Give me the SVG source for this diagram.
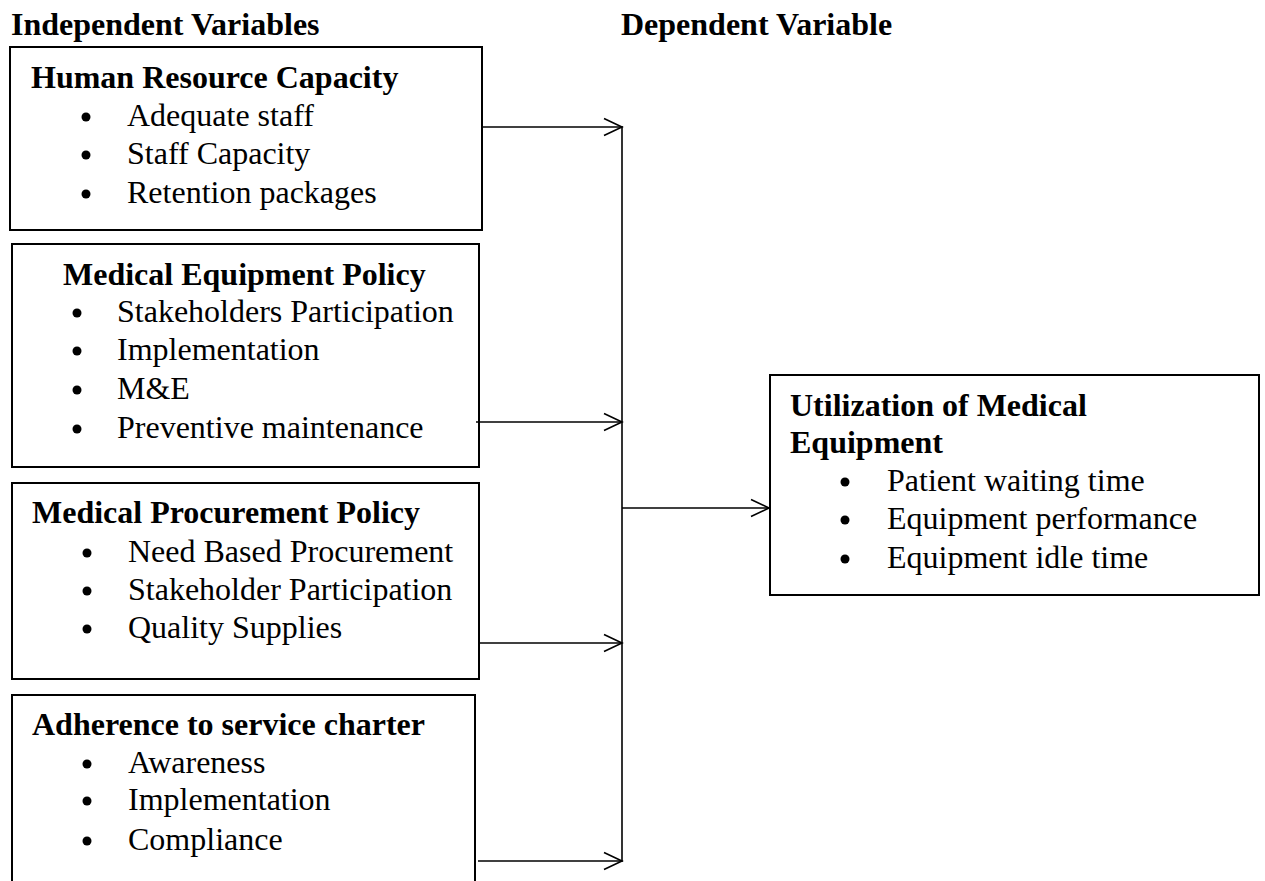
<svg xmlns="http://www.w3.org/2000/svg" width="1265" height="881" viewBox="0 0 1265 881">
<style>
text{font-family:"Liberation Serif","Times New Roman",serif;font-size:32px;fill:#000}
.b{font-weight:bold}
.box{fill:#fff;stroke:#000;stroke-width:2}
.con{fill:none;stroke:#000;stroke-width:1.6}
.dot{fill:#000}
</style>
<defs>
<marker id="arr" markerUnits="userSpaceOnUse" markerWidth="20" markerHeight="20" refX="18" refY="9" orient="auto" overflow="visible">
<path d="M0,0.5 L18,9 L0,17.5" fill="none" stroke="#000" stroke-width="1.6"/>
</marker>
</defs>
<rect width="1265" height="881" fill="#fff"/>
<text class="b" x="11" y="35">Independent Variables</text>
<text class="b" x="621" y="35">Dependent Variable</text>

<g id="hr">
<rect class="box" x="10" y="47" width="472" height="183"/>
<text class="b" x="31" y="88">Human Resource Capacity</text>
<circle class="dot" cx="86" cy="117" r="4.5"/><text x="127" y="126">Adequate staff</text>
<circle class="dot" cx="86" cy="155" r="4.5"/><text x="127" y="164">Staff Capacity</text>
<circle class="dot" cx="86" cy="194" r="4.5"/><text x="127" y="203">Retention packages</text>
</g>

<g id="mep">
<rect class="box" x="12" y="244" width="467" height="223"/>
<text class="b" x="63" y="285">Medical Equipment Policy</text>
<circle class="dot" cx="77" cy="313" r="4.5"/><text x="117" y="322">Stakeholders Participation</text>
<circle class="dot" cx="77" cy="351" r="4.5"/><text x="117" y="360">Implementation</text>
<circle class="dot" cx="77" cy="390" r="4.5"/><text x="117" y="399">M&amp;E</text>
<circle class="dot" cx="77" cy="429" r="4.5"/><text x="117" y="438">Preventive maintenance</text>
</g>

<g id="mpp">
<rect class="box" x="12" y="483" width="467" height="196"/>
<text class="b" x="32" y="523">Medical Procurement Policy</text>
<circle class="dot" cx="87" cy="553" r="4.5"/><text x="128" y="562">Need Based Procurement</text>
<circle class="dot" cx="87" cy="591" r="4.5"/><text x="128" y="600">Stakeholder Participation</text>
<circle class="dot" cx="87" cy="629" r="4.5"/><text x="128" y="638">Quality Supplies</text>
</g>

<g id="asc">
<rect class="box" x="12" y="695" width="463" height="200"/>
<text class="b" x="32" y="735">Adherence to service charter</text>
<circle class="dot" cx="87" cy="764" r="4.5"/><text x="128" y="773">Awareness</text>
<circle class="dot" cx="87" cy="801" r="4.5"/><text x="128" y="810">Implementation</text>
<circle class="dot" cx="87" cy="841" r="4.5"/><text x="128" y="850">Compliance</text>
</g>

<g id="ume">
<rect class="box" x="770" y="375" width="489" height="220"/>
<text class="b" x="790" y="416">Utilization of Medical</text>
<text class="b" x="790" y="453">Equipment</text>
<circle class="dot" cx="845" cy="482" r="4.5"/><text x="887" y="491">Patient waiting time</text>
<circle class="dot" cx="845" cy="520" r="4.5"/><text x="887" y="529">Equipment performance</text>
<circle class="dot" cx="845" cy="559" r="4.5"/><text x="887" y="568">Equipment idle time</text>
</g>

<g id="connectors">
<line class="con" x1="483" y1="127" x2="622" y2="127" marker-end="url(#arr)"/>
<line class="con" x1="476" y1="422" x2="622" y2="422" marker-end="url(#arr)"/>
<line class="con" x1="479" y1="643" x2="622" y2="643" marker-end="url(#arr)"/>
<line class="con" x1="478" y1="861" x2="622" y2="861" marker-end="url(#arr)"/>
<line class="con" x1="622" y1="126" x2="622" y2="862"/>
<line class="con" x1="622" y1="508" x2="769" y2="508" marker-end="url(#arr)"/>
</g>
</svg>
